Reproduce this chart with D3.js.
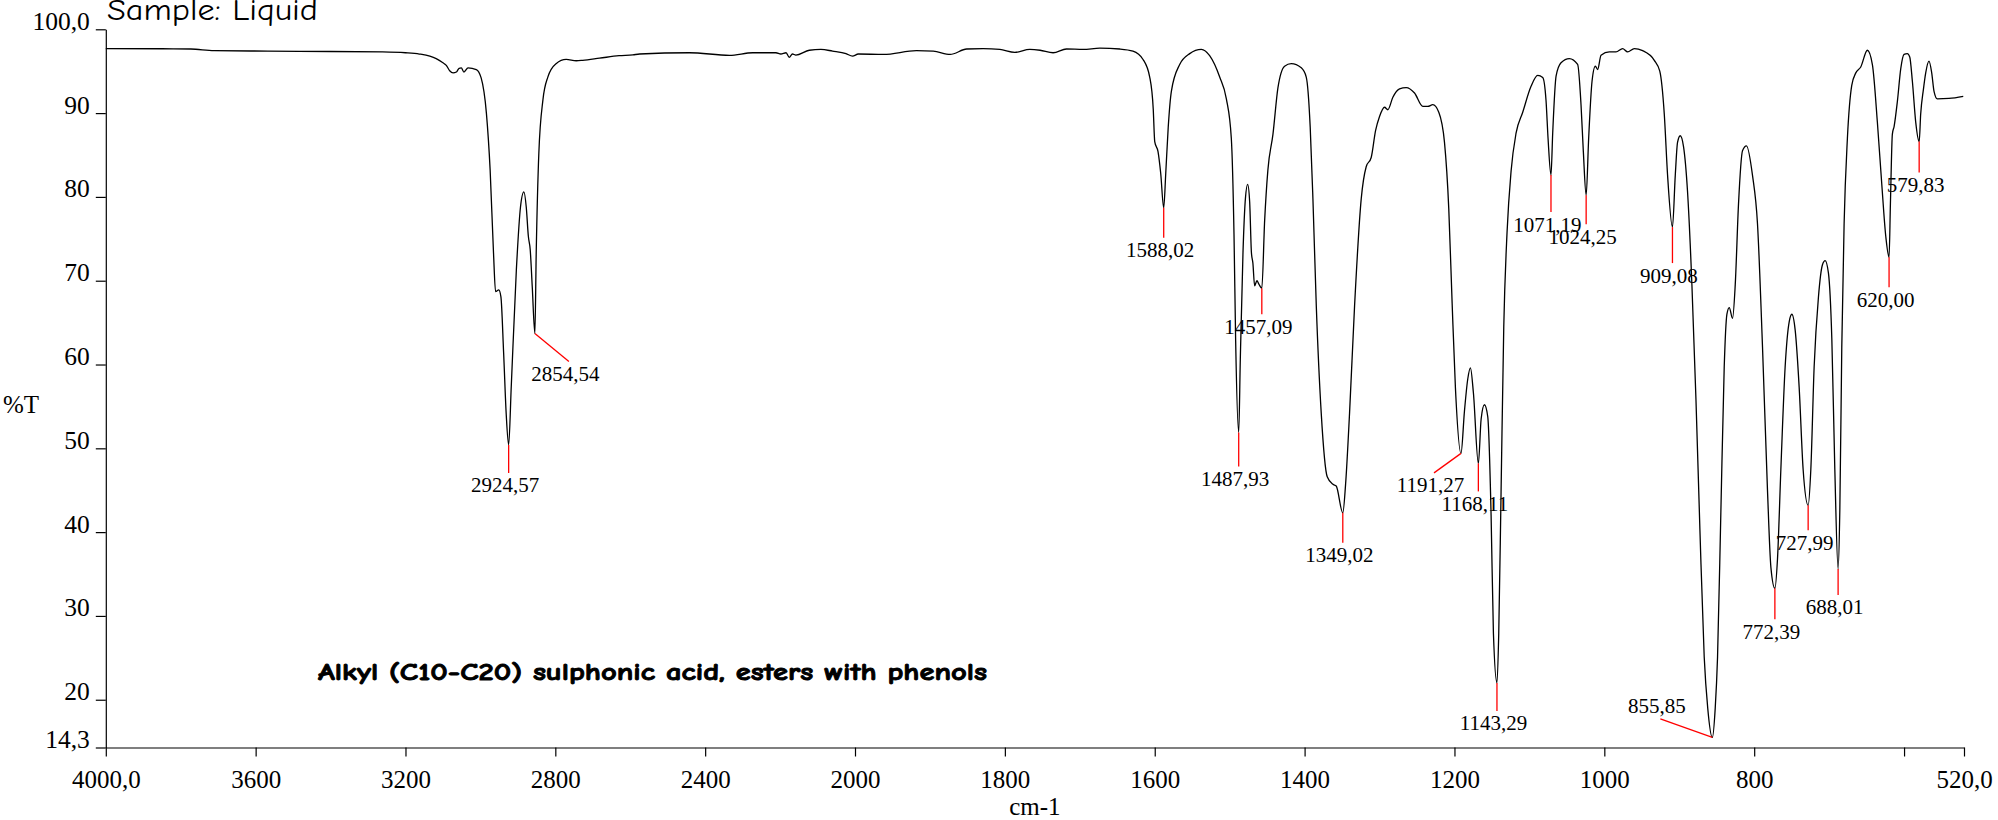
<!DOCTYPE html>
<html>
<head>
<meta charset="utf-8">
<script src="https://cdn.jsdelivr.net/npm/d3@7"></script>
<style>
  html, body { margin: 0; padding: 0; background: #fff; }
  svg { display: block; }
</style>
</head>
<body>
<svg id="chart" width="1998" height="820"></svg>
<script>
// ---------------- DATA ----------------
const wavenumbers = [
  4000, 3850, 3773, 3711, 3567, 3400, 3261, 3200, 3163, 3135, 3118, 3100, 3091, 3082, 3073, 3064, 3057, 3051, 3044, 3033,
  3011, 2998, 2984, 2974, 2965, 2959.5, 2951, 2945.3, 2938, 2931, 2924.57, 2917.6, 2904, 2893, 2884, 2877.6, 2872, 2867, 2861.6, 2854.54,
  2851, 2844, 2833, 2820, 2798, 2771, 2744, 2727, 2682, 2630, 2593, 2575, 2442, 2335, 2273, 2211, 2198, 2184, 2175.5, 2167,
  2158, 2122, 2091, 2060, 2024, 2006.6, 1995.6, 1962, 1918, 1895.6, 1873, 1851, 1829, 1806.7, 1786.7, 1766.7, 1753, 1735.6, 1717.8, 1695.6,
  1673.3, 1646.7, 1629, 1615.6, 1606.7, 1602, 1600, 1595.6, 1592, 1588.02, 1585.3, 1582, 1577.8, 1566.7, 1553.3, 1537.8, 1526.7, 1513.3, 1504.4, 1497.8,
  1494.2, 1492, 1487.93, 1485.8, 1482.2, 1479, 1476, 1473.3, 1471, 1469, 1466.7, 1463.6, 1461, 1457.09, 1453.3, 1449, 1442.2, 1435.6, 1426.7, 1417.8,
  1404.4, 1397.8, 1392.5, 1388.9, 1384.4, 1377.8, 1369.8, 1362.2, 1357.8, 1349.02, 1345.3, 1340, 1333.3, 1324.4, 1317.8, 1311.1, 1305.3, 1300, 1293.3, 1288.9,
  1282.2, 1273.3, 1264.4, 1253.3, 1242.2, 1235.6, 1228.9, 1220.9, 1213.3, 1207.6, 1203.1, 1198.7, 1191.27, 1186.7, 1182.2, 1178.7, 1174.7, 1168.11, 1164.4, 1160,
  1155.6, 1151.1, 1148, 1143.29, 1140.9, 1137.8, 1134.2, 1129.8, 1124.4, 1117.8, 1108.9, 1097.8, 1088.9, 1082.2, 1077.8, 1075.1, 1071.19, 1068.9, 1064.4, 1057.8,
  1046.7, 1035.6, 1031.1, 1028, 1024.25, 1020.9, 1016.4, 1012, 1008.9, 1004.4, 993.3, 984.4, 975.6, 968.9, 960, 948.9, 933.3, 926, 920, 915.6,
  909.08, 905.3, 902.3, 898.7, 894.3, 889, 883.1, 877.7, 872.4, 866.7, 862, 855.85, 852, 848.9, 844.4, 840, 836.4, 833.3, 828.9, 825.3,
  820.9, 815.6, 810.3, 802.3, 795.6, 788.9, 782.3, 777.7, 772.39, 768.9, 764.4, 758.7, 753.3, 749.7, 745.3, 740, 734.7, 727.99, 724.4, 720,
  714.3, 708.9, 705.3, 700.9, 696.4, 692.4, 688.01, 685.7, 683.1, 680, 675.6, 669.8, 664.4, 657.8, 648.9, 642.2, 635.6, 629.8, 624.4, 620.0,
  618.2, 615.6, 613.3, 608.9, 604.4, 600, 595.6, 592.4, 588.9, 584.4, 579.83, 577.8, 574.2, 571.1, 566.7, 563.1, 560, 555.6, 540, 521
];
const transmittance = [
  97.7, 97.68, 97.65, 97.45, 97.4, 97.35, 97.3, 97.2, 97.05, 96.8, 96.5, 96.0, 95.7, 95.06, 94.8, 94.9, 95.35, 95.4, 94.9, 95.4,
  95.2, 94.2, 90.0, 83.2, 73.3, 68.7, 68.9, 68.1, 61.4, 54.0, 50.4, 57.4, 71.3, 78.8, 80.6, 78.8, 75.3, 73.7, 69.3, 63.7,
  73.3, 85.2, 91.6, 94.3, 95.9, 96.4, 96.25, 96.3, 96.55, 96.85, 96.95, 97.05, 97.2, 96.9, 97.2, 97.2, 97.05, 97.2, 96.66, 97.05,
  96.93, 97.5, 97.6, 97.4, 97.1, 96.8, 97.05, 97.0, 97.45, 97.4, 97.0, 97.65, 97.7, 97.6, 97.25, 97.6, 97.5, 97.2, 97.65, 97.6,
  97.75, 97.65, 97.4, 96.4, 94.3, 90.5, 86.6, 85.4, 82.8, 78.7, 82.8, 88.3, 92.6, 95.8, 97.1, 97.6, 96.85, 94.3, 91.7, 87.0,
  75.5, 62.8, 51.9, 60.6, 73.4, 79.8, 81.5, 79.4, 73.4, 72.1, 69.4, 70.0, 69.6, 69.1, 77.2, 83.2, 87.5, 93.0, 95.6, 95.9,
  95.4, 94.3, 88.3, 79.8, 67.0, 54.2, 46.6, 45.7, 45.5, 42.3, 45.7, 54.2, 67.0, 79.8, 83.6, 84.7, 87.9, 89.6, 90.7, 90.4,
  91.9, 92.9, 93.05, 92.4, 90.8, 90.8, 91.0, 90.1, 86.5, 78.6, 67.3, 57.2, 49.4, 54.4, 58.3, 59.6, 56.6, 48.2, 53.5, 55.2,
  53.8, 42.0, 27.9, 22.0, 27.9, 44.8, 64.5, 75.8, 83.1, 87.6, 90.1, 93.2, 94.5, 94.25, 91.5, 87.0, 82.6, 87.6, 94.4, 96.0,
  96.5, 95.8, 91.0, 85.4, 80.2, 87.0, 93.8, 95.6, 95.2, 96.9, 97.3, 97.3, 97.7, 97.3, 97.7, 97.45, 96.3, 95.0, 89.9, 82.6,
  76.4, 82.6, 86.5, 87.3, 86.0, 80.7, 69.5, 55.8, 40.2, 25.1, 19.0, 15.5, 19.0, 25.1, 42.7, 59.7, 66.0, 66.8, 65.5, 69.5,
  79.2, 85.5, 86.1, 82.6, 76.8, 62.1, 45.1, 35.8, 33.3, 36.8, 47.5, 59.7, 65.1, 66.0, 64.1, 57.3, 47.5, 43.2, 47.5, 59.7,
  68.0, 71.9, 72.4, 70.9, 63.1, 47.5, 35.6, 42.7, 62.1, 76.8, 87.0, 93.3, 94.8, 95.5, 97.5, 95.75, 88.9, 81.6, 75.3, 72.8,
  79.2, 87.5, 88.4, 91.4, 95.3, 97.0, 97.1, 96.7, 93.8, 88.9, 86.6, 89.9, 92.8, 94.8, 96.2, 94.8, 92.6, 91.7, 91.75, 92.0
];
const peakWavenumbers = [2924.57, 2854.54, 1588.02, 1487.93, 1457.09, 1349.02, 1191.27, 1168.11, 1143.29,
  1071.19, 1024.25, 909.08, 855.85, 772.39, 727.99, 688.01, 620.00, 579.83];

const xTickValues = [4000, 3600, 3200, 2800, 2400, 2000, 1800, 1600, 1400, 1200, 1000, 800, 600, 520];
const xTickLabels = ["4000,0", "3600", "3200", "2800", "2400", "2000", "1800", "1600", "1400", "1200", "1000", "800", "", "520,0"];
const yTickValues = [100, 90, 80, 70, 60, 50, 40, 30, 20, 14.3];
const yTickLabels = ["100,0", "90", "80", "70", "60", "50", "40", "30", "20", "14,3"];

const titleText = "Sample: Liquid";
const noteText = "Alkyl (C10-C20) sulphonic acid, esters with phenols";
const xAxisTitle = "cm-1";
const yAxisTitle = "%T";

// ---------------- LAYOUT (pixels, not data) ----------------
// leader line offsets from each trough: [dx, dy, textAbove]
const leaderLayout = [
  [0, 28], [34, 28], [0, 30], [0, 34], [0, 26], [0, 30], [-27, 19.5], [0, 28], [0, 28],
  [0, 37], [0, 29], [0, 36], [-52, -18.6, true], [0, 31], [0, 25], [0, 26], [0, 30], [0, 31]
];
const serif = "'Liberation Serif', 'Times New Roman', Times, serif";
const comic = "'Comic Sans MS', 'Comic Neue', 'DejaVu Sans', sans-serif";

// ---------------- DRAW ----------------
const svg = d3.select("#chart");
svg.append("rect").attr("width", 1998).attr("height", 820).attr("fill", "#fff");

// IR chart: x axis expanded x2 below 2000 cm-1
const x = d3.scaleLinear().domain([4000, 2000, 520]).range([105.8, 855, 1964]);
const y = d3.scaleLinear().domain([14.3, 100]).range([747.5, 29.3]);

const xAxis = d3.axisBottom(x)
  .tickValues(xTickValues)
  .tickFormat((d, i) => xTickLabels[i])
  .tickSize(9).tickSizeOuter(0);
const gx = svg.append("g").attr("transform", `translate(0,${y(14.3)})`).call(xAxis);
gx.select(".domain").attr("stroke", "#000").attr("stroke-width", 1.2);
gx.selectAll(".tick line").attr("stroke", "#000").attr("stroke-width", 1.2);
gx.selectAll(".tick text")
  .attr("y", 40.5).attr("dy", 0)
  .attr("font-family", serif).attr("font-size", 25).attr("fill", "#000");

const yAxis = d3.axisLeft(y)
  .tickValues(yTickValues)
  .tickFormat((d, i) => yTickLabels[i])
  .tickSize(10).tickSizeOuter(0);
const gy = svg.append("g").attr("transform", `translate(${x(4000)},0)`).call(yAxis);
gy.select(".domain").attr("stroke", "#000").attr("stroke-width", 1.2);
gy.selectAll(".tick line").attr("stroke", "#000").attr("stroke-width", 1.2);
gy.selectAll(".tick text")
  .attr("x", -16).attr("dy", 0)
  .attr("font-family", serif).attr("font-size", 25.5).attr("fill", "#000");

// axis titles
svg.append("text")
  .attr("x", (x(4000) + x(520)) / 2).attr("y", 815)
  .attr("text-anchor", "middle")
  .attr("font-family", serif).attr("font-size", 25)
  .text(xAxisTitle);
svg.append("text")
  .attr("x", 3).attr("y", 413)
  .attr("font-family", serif).attr("font-size", 25)
  .text(yAxisTitle);

// spectrum
const points = wavenumbers.map((w, i) => [w, transmittance[i]]);
const line = d3.line()
  .x(d => x(d[0]))
  .y(d => y(d[1]))
  .curve(d3.curveMonotoneX);
svg.append("path")
  .datum(points)
  .attr("d", line)
  .attr("fill", "none")
  .attr("stroke", "#000")
  .attr("stroke-width", 1.3)
  .attr("stroke-linejoin", "round");

// peak labels
const fmt = v => d3.format(".2f")(v).replace(".", ",");
const gp = svg.append("g");
peakWavenumbers.forEach((w, i) => {
  const idx = wavenumbers.indexOf(w);
  const t = transmittance[idx];
  const px = x(w), py = y(t);
  const [dx, dy, above] = leaderLayout[i];
  const ex = px + dx, ey = py + dy;
  gp.append("line")
    .attr("x1", px).attr("y1", py)
    .attr("x2", ex).attr("y2", ey)
    .attr("stroke", "#ff0000").attr("stroke-width", 1.3);
  gp.append("text")
    .attr("x", ex - 3.5)
    .attr("y", above ? ey - 6 : ey + 19.5)
    .attr("text-anchor", "middle")
    .attr("font-family", serif).attr("font-size", 21)
    .attr("fill", "#000")
    .text(fmt(w));
});

// texts
svg.append("text")
  .attr("x", 107).attr("y", 20)
  .attr("font-family", comic).attr("font-size", 31)
  .attr("textLength", 211).attr("lengthAdjust", "spacingAndGlyphs")
  .text(titleText);
svg.append("text")
  .attr("x", 318).attr("y", 680)
  .attr("font-family", comic).attr("font-size", 25).attr("font-weight", "bold")
  .attr("stroke", "#000").attr("stroke-width", 0.9)
  .attr("textLength", 669).attr("lengthAdjust", "spacingAndGlyphs")
  .text(noteText);
</script>
</body>
</html>
